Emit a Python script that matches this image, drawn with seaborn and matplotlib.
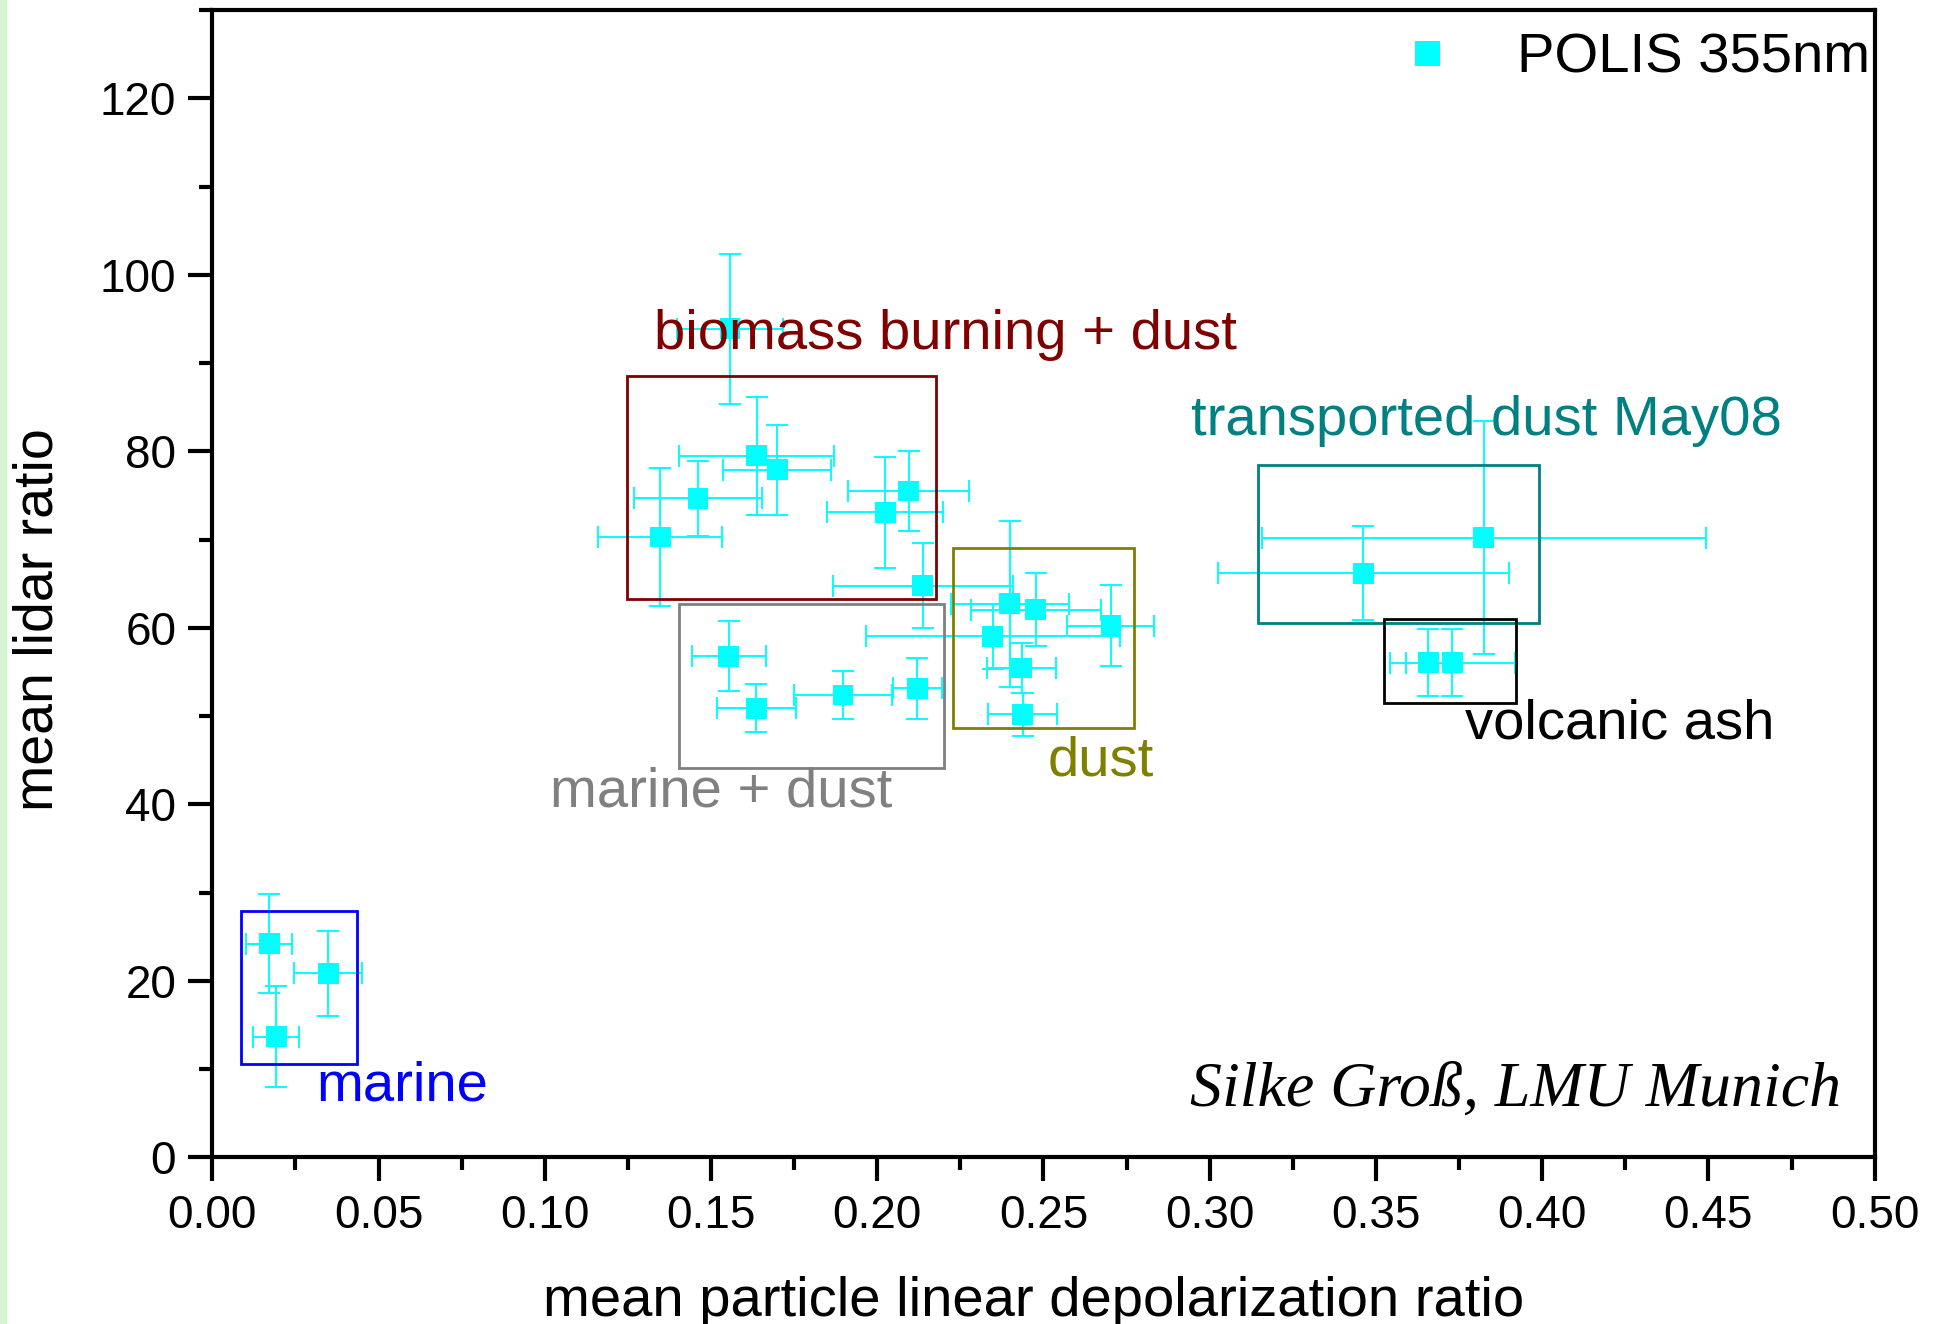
import numpy as np
import pandas as pd
import matplotlib
matplotlib.use("Agg")
import matplotlib.pyplot as plt
from matplotlib.patches import Rectangle
from matplotlib.ticker import MultipleLocator
import seaborn as sns

# ---- data ----
depol = [0.0171, 0.0349, 0.0193,
         0.1557, 0.1637, 0.1699, 0.1461, 0.1347, 0.2095, 0.2024, 0.2137,
         0.1553, 0.1636, 0.1897, 0.2121,
         0.2399, 0.2477, 0.2348, 0.2703, 0.2434, 0.2437,
         0.3462, 0.3824,
         0.3657, 0.3730]
lidar = [24.2, 20.85, 13.7,
         93.9, 79.5, 77.9, 74.7, 70.3, 75.5, 73.1, 64.8,
         56.8, 50.9, 52.4, 53.15,
         62.74, 62.06, 59.04, 60.25, 55.45, 50.2,
         66.2, 70.2,
         56.06, 56.06]
depol_err = [0.0069, 0.0102, 0.0069,
             0.016, 0.0233, 0.0162, 0.0192, 0.0186, 0.0182, 0.0175, 0.027,
             0.0111, 0.0119, 0.0147, 0.0074,
             0.0178, 0.0196, 0.0382, 0.0131, 0.0104, 0.0104,
             0.0437, 0.0668,
             0.0066, 0.0188]
lidar_err = [5.6, 4.85, 5.7,
             8.5, 6.7, 5.1, 4.25, 7.8, 4.5, 6.3, 4.8,
             4.0, 2.75, 2.7, 3.45,
             9.4, 4.15, 3.7, 4.6, 2.87, 2.4,
             5.36, 13.2,
             3.83, 3.83]

group_names = ["marine", "biomass burning + dust", "marine + dust", "dust",
               "transported dust May08", "volcanic ash"]
group_colors = ["#0000FF", "#800000", "#808080", "#808000", "#008080", "#000000"]
group_x0 = [0.0085, 0.1247, 0.1405, 0.2227, 0.3144, 0.3525]
group_x1 = [0.0436, 0.2176, 0.2202, 0.2772, 0.3990, 0.3920]
group_y0 = [10.6, 63.3, 44.1, 48.6, 60.5, 51.5]
group_y1 = [27.9, 88.5, 62.7, 69.1, 78.4, 61.0]
label_x = [0.0314, 0.1328, 0.1016, 0.2512, 0.2945, 0.3769]
label_y = [6.5, 91.6, 39.8, 43.3, 81.8, 47.5]

x_ticks = [0.0, 0.05, 0.10, 0.15, 0.20, 0.25, 0.30, 0.35, 0.40, 0.45, 0.50]
y_ticks = [0, 20, 40, 60, 80, 100, 120]

df = pd.DataFrame({"depol": depol, "lidar": lidar,
                   "depol_err": depol_err, "lidar_err": lidar_err,
                   "series": "POLIS 355nm"})

sns.set_theme(style="white")
plt.rcParams["font.family"] = ["Liberation Sans", "DejaVu Sans"]
plt.rcParams["text.color"] = "black"
plt.rcParams["axes.labelcolor"] = "black"
plt.rcParams["xtick.color"] = "black"
plt.rcParams["ytick.color"] = "black"

fig = plt.figure(figsize=(19.35, 13.24), dpi=100)
fig.patches.append(Rectangle((0, 0), 7 / 1935, 1, transform=fig.transFigure,
                             facecolor="#d4f5cf", edgecolor="none", zorder=0))
ax = fig.add_axes([0.1097, 0.1258, 0.8591, 0.8666])

ax.errorbar(df["depol"], df["lidar"], xerr=df["depol_err"], yerr=df["lidar_err"],
            fmt="none", ecolor="#00FFFF", elinewidth=1.4, capsize=7.9,
            capthick=1.4, zorder=2)
sns.scatterplot(data=df, x="depol", y="lidar", hue="series",
                palette=["#00FFFF"], marker="s", s=15 ** 2, linewidth=0,
                ax=ax, zorder=4)

for name, c, x0, x1, y0, y1, lx, ly in zip(group_names, group_colors, group_x0,
                                          group_x1, group_y0, group_y1,
                                          label_x, label_y):
    ax.add_patch(Rectangle((x0, y0), x1 - x0, y1 - y0, fill=False,
                           edgecolor=c, linewidth=2.0, zorder=3))
    ax.text(lx, ly, name, color=c, fontsize=40.5, ha="left", va="baseline",
            zorder=5)

ax.text(0.4898, 5.9, "Silke Groß, LMU Munich", fontsize=46, style="italic",
        color="black", family=["Liberation Serif", "DejaVu Serif"],
        ha="right", va="baseline")

ax.set_xlim(0, 0.5)
ax.set_ylim(0, 130)
ax.set_xticks(x_ticks)
ax.set_xticklabels([f"{v:.2f}" for v in x_ticks])
ax.set_yticks(y_ticks)
ax.set_yticklabels([str(v) for v in y_ticks])
ax.xaxis.set_minor_locator(MultipleLocator(0.025))
ax.yaxis.set_minor_locator(MultipleLocator(10))
ax.tick_params(axis="both", which="major", direction="out", length=17, width=3,
               labelsize=33, color="black", labelcolor="black", pad=9,
               bottom=True, left=True, top=False, right=False)
ax.tick_params(axis="both", which="minor", direction="out", length=9.5, width=3,
               color="black", bottom=True, left=True, top=False, right=False)
for sp in ax.spines.values():
    sp.set_visible(True)
    sp.set_color("black")
    sp.set_linewidth(3)

ax.set_xlabel("mean particle linear depolarization ratio", fontsize=40.5,
              color="black")
ax.xaxis.set_label_coords(0.494, -0.103)
ax.set_ylabel("mean lidar ratio", fontsize=40, color="black")
ax.yaxis.set_label_coords(-0.089, 0.469)

leg = ax.legend(loc="center right", bbox_to_anchor=(0.9972, 0.958),
                frameon=False, fontsize=40.5, borderpad=0, borderaxespad=0,
                handletextpad=0.6, markerscale=1.2)
for t in leg.get_texts():
    t.set_color("black")
for h in leg.legend_handles:
    h.set_color("#00FFFF")

fig.savefig("out.png", dpi=100)
